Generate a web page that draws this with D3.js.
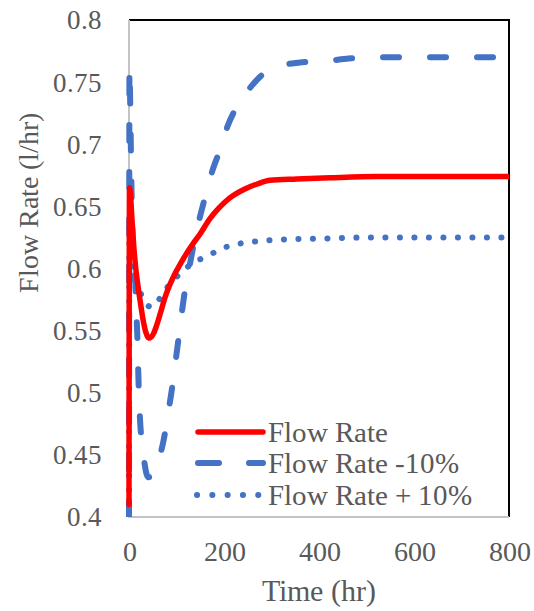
<!DOCTYPE html>
<html>
<head>
<meta charset="utf-8">
<script src="https://cdn.jsdelivr.net/npm/d3@7"></script>
<style>
  @font-face {
    font-family: "ChartSerif";
    src: local("Liberation Serif"), local("LiberationSerif"), local("LiberationSerif-Regular"),
         local("Times New Roman"), local("TimesNewRomanPSMT"), local("DejaVu Serif"), local("DejaVuSerif"),
         local("Noto Serif"), local("NotoSerif-Regular");
  }
  html, body { margin: 0; padding: 0; background: #fff; }
  svg { display: block; }
  svg text { font-family: "ChartSerif", "Liberation Serif", "Times New Roman", "DejaVu Serif", serif; fill: #595959; }
</style>
</head>
<body>
<svg id="chart" width="534" height="611"></svg>
<script>
// ---- Data ----
const seriesNames = ["Flow Rate", "Flow Rate -10%", "Flow Rate + 10%"];

const timeBase = [0, 1, 3, 6, 10, 14, 20, 25, 30, 36, 41, 47, 52, 58, 66, 76, 86, 97, 110, 121, 135, 150, 170, 190, 213, 244, 270, 297, 353, 423, 521, 650, 800];
const flowBase = [0.41, 0.665, 0.66, 0.641, 0.618, 0.601, 0.583, 0.57, 0.558, 0.548, 0.544, 0.545, 0.548, 0.554, 0.564, 0.577, 0.587, 0.596, 0.605, 0.612, 0.62, 0.628, 0.64, 0.649, 0.657, 0.664, 0.668, 0.671, 0.672, 0.673, 0.674, 0.674, 0.674];

const timeMinus = [0, 1, 3, 5, 8, 12, 15, 18, 20, 23, 27, 32, 40, 50, 58, 65, 74, 82, 90, 97, 104, 111, 118, 128, 137, 149, 162, 175, 193, 207, 228, 256, 281, 319, 365, 417, 462, 522, 600, 700, 800];
const flowMinus = [0.40, 0.762, 0.72, 0.67, 0.62, 0.60, 0.57, 0.54, 0.51, 0.48, 0.46, 0.445, 0.432, 0.434, 0.44, 0.449, 0.464, 0.483, 0.502, 0.522, 0.543, 0.564, 0.583, 0.603, 0.621, 0.641, 0.66, 0.678, 0.697, 0.714, 0.731, 0.746, 0.756, 0.763, 0.766, 0.767, 0.769, 0.770, 0.770, 0.770, 0.770];

const timePlus = [0, 1, 3, 6, 10, 15, 20, 30, 40, 48, 56, 65, 79, 97, 112, 132, 153, 175, 195, 220, 248, 276, 304, 395, 514, 650, 800];
const flowPlus = [0.41, 0.64, 0.625, 0.608, 0.597, 0.59, 0.585, 0.575, 0.57, 0.569, 0.571, 0.576, 0.584, 0.592, 0.597, 0.604, 0.608, 0.612, 0.616, 0.619, 0.621, 0.622, 0.623, 0.624, 0.625, 0.625, 0.625];

const xTicks = [0, 200, 400, 600, 800];
const yTicks = [0.4, 0.45, 0.5, 0.55, 0.6, 0.65, 0.7, 0.75, 0.8];
const xTitle = "Time (hr)";
const yTitle = "Flow Rate (l/hr)";

// ---- Layout ----
const svg = d3.select("#chart");
const L = 129, R = 509, T = 20, B = 517;
const x = d3.scaleLinear().domain([0, 800]).range([L, R]);
const y = d3.scaleLinear().domain([0.4, 0.8]).range([B, T]);

svg.append("rect").attr("width", 534).attr("height", 611).attr("fill", "#fff");

// Plot border: top & right black, left & bottom gray
svg.append("line").attr("x1", L).attr("x2", R + 1).attr("y1", T).attr("y2", T)
  .attr("stroke", "#000").attr("stroke-width", 2);
svg.append("line").attr("x1", R).attr("x2", R).attr("y1", T).attr("y2", B)
  .attr("stroke", "#000").attr("stroke-width", 2);

// Axes
const yAxis = svg.append("g").attr("transform", `translate(${L},0)`)
  .call(d3.axisLeft(y).tickValues(yTicks).tickSize(0).tickPadding(27)
    .tickFormat(d => String(+d.toFixed(2))));
yAxis.attr("font-family", null).attr("font-size", null);
yAxis.select(".domain").remove();
yAxis.selectAll("text").style("font-size", "27px").attr("dy", "0.33em");

const xAxis = svg.append("g").attr("transform", `translate(0,${B})`)
  .call(d3.axisBottom(x).tickValues(xTicks).tickSize(0).tickPadding(24)
    .tickFormat(d3.format("d")));
xAxis.attr("font-family", null).attr("font-size", null);
xAxis.select(".domain").remove();
xAxis.selectAll("text").style("font-size", "28px");

svg.append("line").attr("x1", L).attr("x2", L).attr("y1", T).attr("y2", B + 1)
  .attr("stroke", "#c4c4c4").attr("stroke-width", 2);
svg.append("line").attr("x1", L).attr("x2", R).attr("y1", B).attr("y2", B)
  .attr("stroke", "#c4c4c4").attr("stroke-width", 2);

// Titles
svg.append("text").attr("x", 319).attr("y", 601).attr("text-anchor", "middle")
  .style("font-size", "30px").text(xTitle);
svg.append("text").attr("transform", "translate(38,203) rotate(-90)")
  .attr("text-anchor", "middle").style("font-size", "28px").text(yTitle);

// Lines
const line = d3.line().x(d => x(d[0])).y(d => y(d[1])).curve(d3.curveMonotoneX);
const zip = (a, b) => a.map((t, i) => [t, b[i]]);

const styles = [
  { color: "#ff0000", width: 5.5, dash: null, cap: "round" },
  { color: "#4472c4", width: 6, dash: "16,31", cap: "round" },
  { color: "#4472c4", width: 6, dash: "0.1,14.4", cap: "round" }
];
const dataSets = [zip(timeBase, flowBase), zip(timeMinus, flowMinus), zip(timePlus, flowPlus)];

const drawOrder = [2, 1, 0];
svg.append("clipPath").attr("id", "clip").append("rect")
  .attr("x", L - 4).attr("y", T - 4).attr("width", R - L + 4).attr("height", B - T + 4);
const g = svg.append("g").attr("clip-path", "url(#clip)");
drawOrder.forEach(i => {
  const s = styles[i];
  g.append("path").datum(dataSets[i]).attr("d", line)
    .attr("fill", "none").attr("stroke", s.color).attr("stroke-width", s.width)
    .attr("stroke-linecap", s.cap).attr("stroke-linejoin", "round")
    .attr("stroke-dasharray", s.dash);
});

// Legend
const legendY = [432, 463, 495];
const leg = svg.append("g");
seriesNames.forEach((name, i) => {
  const s = styles[i];
  const ly = legendY[i];
  if (i === 1) {
    leg.append("line").attr("x1", 198).attr("x2", 219).attr("y1", ly).attr("y2", ly)
      .attr("stroke", s.color).attr("stroke-width", s.width).attr("stroke-linecap", "round");
    leg.append("line").attr("x1", 249).attr("x2", 263).attr("y1", ly).attr("y2", ly)
      .attr("stroke", s.color).attr("stroke-width", s.width).attr("stroke-linecap", "round");
  } else if (i === 2) {
    leg.append("line").attr("x1", 197).attr("x2", 260).attr("y1", ly).attr("y2", ly)
      .attr("stroke", s.color).attr("stroke-width", s.width).attr("stroke-linecap", "round")
      .attr("stroke-dasharray", "0.1,15.2");
  } else {
    leg.append("line").attr("x1", 198).attr("x2", 263).attr("y1", ly).attr("y2", ly)
      .attr("stroke", s.color).attr("stroke-width", s.width).attr("stroke-linecap", "round");
  }
  leg.append("text").attr("x", 268).attr("y", ly + 10)
    .style("font-size", "29px").text(name);
});
</script>
</body>
</html>
